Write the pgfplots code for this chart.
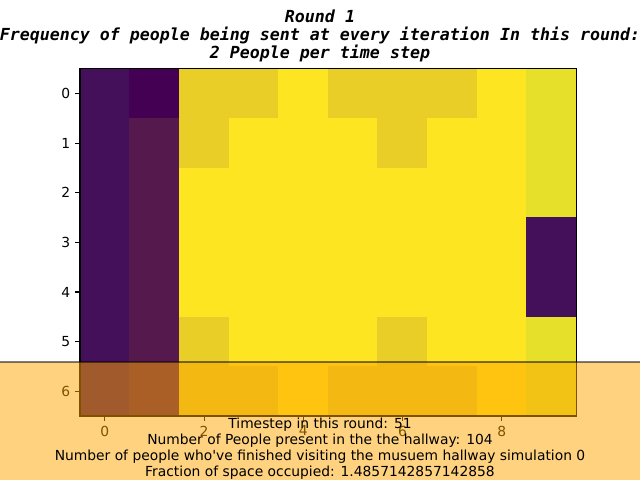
\documentclass[border=0pt]{standalone}
\usepackage{fontspec}
\setmainfont{DejaVu Sans}
\newfontfamily\titlefont[BoldItalicFont={DejaVu Sans Mono Bold Oblique}]{DejaVu Sans Mono}
\usepackage{pgfplots}
\pgfplotsset{compat=1.18}
\definecolor{mplorange}{RGB}{255,165,0}

% cell states: 0 empty start, 1 entry col, 2 col 1, 3 busy, 4 edge, 5 full
\pgfplotstableread{
x y c
0 0 1
1 0 0
2 0 3
3 0 3
4 0 5
5 0 3
6 0 3
7 0 3
8 0 5
9 0 4
0 -1 1
1 -1 2
2 -1 3
3 -1 5
4 -1 5
5 -1 5
6 -1 3
7 -1 5
8 -1 5
9 -1 4
0 -2 1
1 -2 2
2 -2 5
3 -2 5
4 -2 5
5 -2 5
6 -2 5
7 -2 5
8 -2 5
9 -2 4
0 -3 1
1 -3 2
2 -3 5
3 -3 5
4 -3 5
5 -3 5
6 -3 5
7 -3 5
8 -3 5
9 -3 1
0 -4 1
1 -4 2
2 -4 5
3 -4 5
4 -4 5
5 -4 5
6 -4 5
7 -4 5
8 -4 5
9 -4 1
0 -5 1
1 -5 2
2 -5 3
3 -5 5
4 -5 5
5 -5 5
6 -5 3
7 -5 5
8 -5 5
9 -5 4
0 -6 1
1 -6 2
2 -6 3
3 -6 3
4 -6 5
5 -6 3
6 -6 3
7 -6 3
8 -6 5
9 -6 4
}\hallway

\begin{document}
\begin{tikzpicture}[x=0.01in,y=0.01in]
\useasboundingbox (0,0) rectangle (640,480);
\coordinate (ll) at (80,64);
\begin{axis}[
  at={(ll)}, anchor=south west,
  scale only axis, width=4.96in, height=3.47in,
  xmin=-0.5, xmax=9.5, ymin=-6.5, ymax=0.5,
  xtick={0,2,4,6,8},
  ytick={-6,-5,-4,-3,-2,-1,0},
  yticklabels={6,5,4,3,2,1,0},
  tick align=outside, tickpos=left,
  major tick length=3.5pt,
  tick style={black, line width=0.8pt},
  axis line style={black, line width=0.8pt},
  tick label style={font=\fontsize{10}{12}\selectfont},
  /pgf/number format/assume math mode=true,
  colormap={hall}{rgb255=(68,1,84) rgb255=(67,16,89) rgb255=(86,25,78)
    rgb255=(232,206,38) rgb255=(230,224,42) rgb255=(253,229,34)},
  point meta min=0, point meta max=5,
  axis on top,
]
  \addplot[matrix plot*, mesh/cols=10, point meta=explicit]
    table[x=x, y=y, meta=c] {\hallway};
\end{axis}
\fill[mplorange, opacity=0.5] (-5,-5) rectangle (645,118);
\draw[black, opacity=0.5, line width=0.8pt] (-5,118) -- (645,118);
\node[anchor=north, inner sep=0pt, align=center,
  font=\fontsize{10}{11.7}\selectfont] at (320,62.5)
  {Timestep in this round: 51\\
   Number of People present in the the hallway: 104\\
   Number of people who\textquotesingle ve finished visiting the musuem hallway simulation 0\\
   Fraction of space occupied: 1.4857142857142858};
\node[anchor=north, inner sep=0pt, align=center,
  font=\titlefont\bfseries\itshape\fontsize{12}{13}\selectfont] at (320,470.5)
  {Round 1\\
   Frequency of people being sent at every iteration In this round:\\
   2 People per time step};
\end{tikzpicture}
\end{document}
